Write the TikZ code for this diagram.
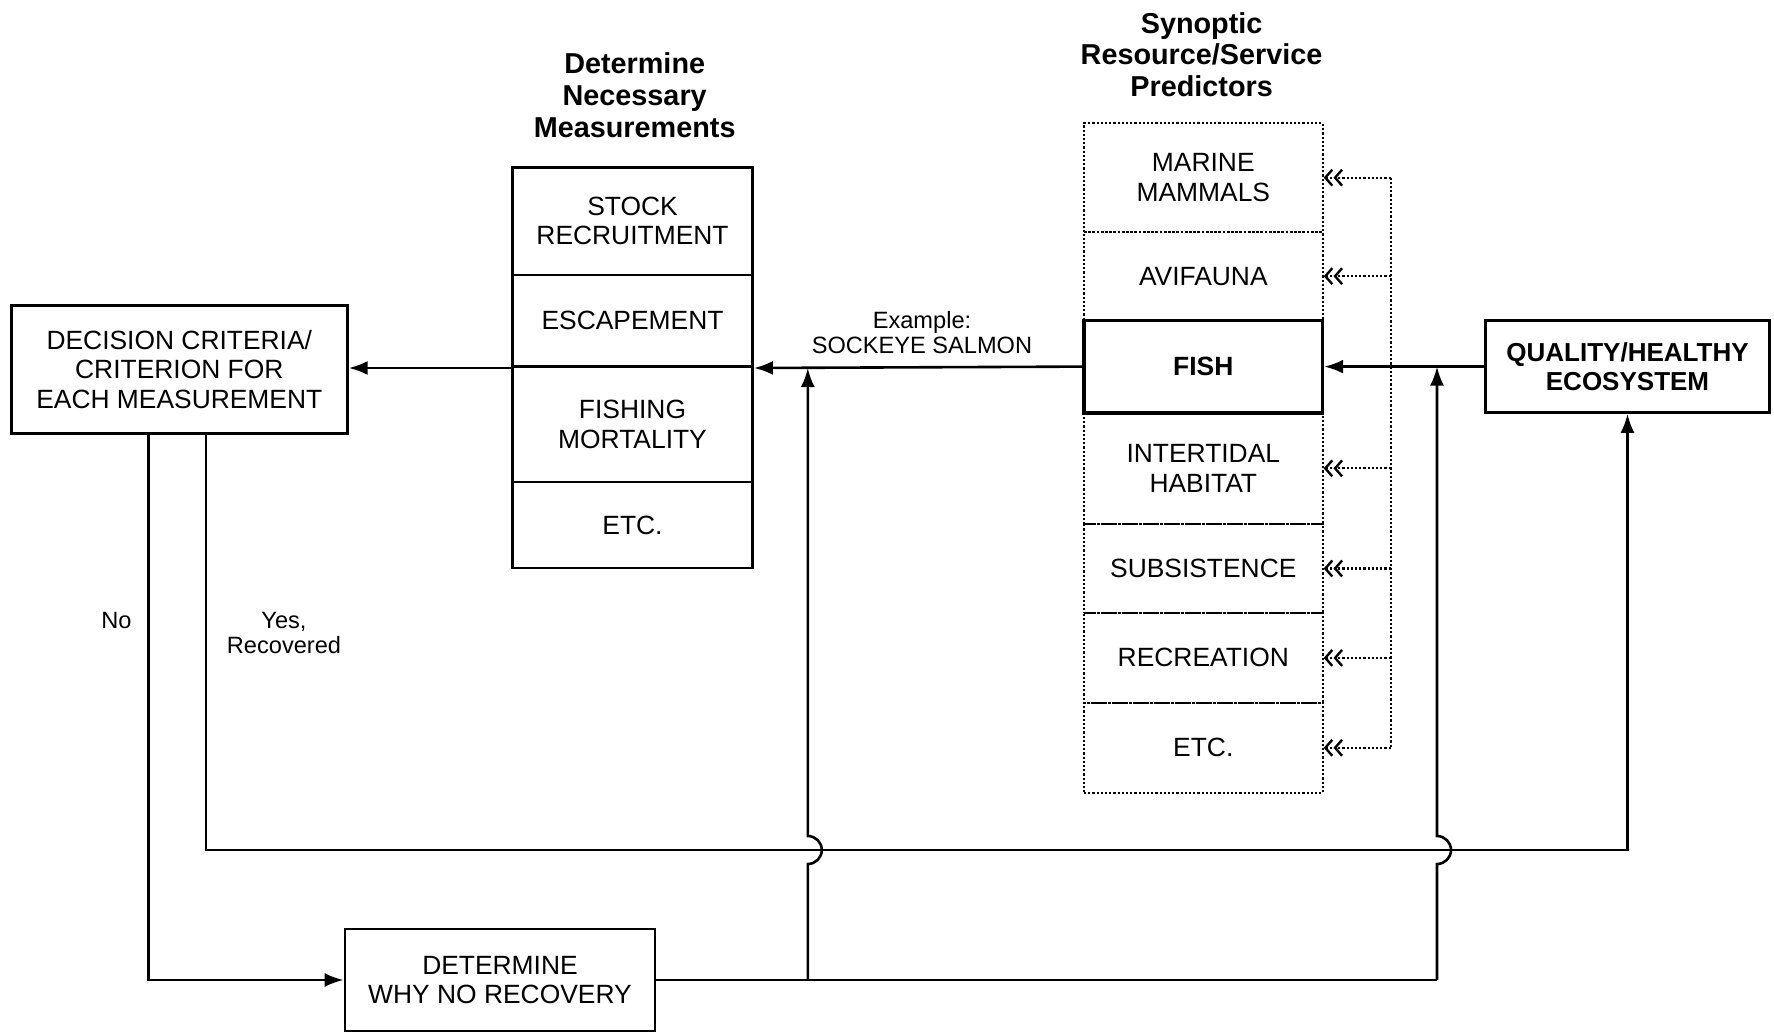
\documentclass[tikz,border=0pt]{standalone}
\usepackage{fontspec}
\setmainfont{Liberation Sans}
\usetikzlibrary{arrows.meta,calc}
\begin{document}
\begin{tikzpicture}[x=0.5pt,y=-0.5pt,
  txt/.style={font=\fontsize{13.2}{14.7}\selectfont},
  mcell/.style={draw,line width=1.4pt,align=center,inner sep=0pt,minimum width=120pt,txt},
  pcell/.style={draw,densely dotted,line width=1.1pt,align=center,inner sep=0pt,minimum width=119.3pt,txt},
  box/.style={draw,line width=1.4pt,align=center,inner sep=0pt,txt},
  ttl/.style={align=center,inner sep=0pt,font=\fontsize{14.4}{15.9}\selectfont\bfseries},
  lbl/.style={align=center,inner sep=0pt,font=\fontsize{11.8}{12.5}\selectfont},
  conn/.style={line width=1.3pt},
  arr/.style={line width=1.3pt,-{Latex[length=9.5pt,width=7pt]}},
  dotl/.style={line width=1.1pt,densely dotted},
  dotarr/.style={line width=1.1pt,densely dotted,-{Straight Barb[length=3.5pt,width=8pt,line width=1.2pt] Straight Barb[length=3.5pt,width=8pt,line width=1.2pt]}}]
\useasboundingbox (0,0) rectangle (1774,1033);
\clip (0,0) rectangle (1774,1033);
% titles
\node[ttl] (mtitle) at (634.7,95) {Determine\\Necessary\\Measurements};
\node[ttl] (ptitle) at (1201.6,54.7) {Synoptic\\Resource/Service\\Predictors};
% measurement column
\node[mcell,minimum height=53.8pt] (stock) at (632.5,221.2) {STOCK\\RECRUITMENT};
\node[mcell,minimum height=45.8pt] (esc) at (632.5,320.8) {ESCAPEMENT};
\node[mcell,minimum height=57.7pt] (fishing) at (632.5,424.3) {FISHING\\MORTALITY};
\node[mcell,minimum height=43pt] (metc) at (632.5,525) {ETC.};
% predictor column
\node[pcell,minimum height=54.35pt] (marine) at (1203.3,177.65) {MARINE\\MAMMALS};
\node[pcell,minimum height=44.15pt] (avi) at (1203.3,276.15) {AVIFAUNA};
\node[pcell,minimum height=55.45pt] (inter) at (1203.3,468.35) {INTERTIDAL\\HABITAT};
\node[pcell,minimum height=44.7pt] (subs) at (1203.3,568.5) {SUBSISTENCE};
\node[pcell,minimum height=44.7pt] (recr) at (1203.3,657.9) {RECREATION};
\node[pcell,minimum height=45.2pt] (petc) at (1203.3,747.8) {ETC.};
\node[mcell,line width=1.6pt,minimum width=119.3pt,minimum height=46.3pt,font=\fontsize{13.2}{14.7}\selectfont\bfseries] (fish) at (1203.3,366.6) {FISH};
% other boxes
\node[box,minimum width=168pt,minimum height=63.9pt] (dec) at (179.3,369.4) {DECISION CRITERIA/\\CRITERION FOR\\EACH MEASUREMENT};
\node[box,minimum width=142pt,minimum height=45.85pt,font=\fontsize{13}{14.7}\selectfont\bfseries] (qual) at (1627.5,366.6) {QUALITY/HEALTHY\\ECOSYSTEM};
\node[box,minimum width=155pt,minimum height=51pt] (det) at (500,980) {DETERMINE\\WHY NO RECOVERY};
% labels
\node[lbl] (ex) at (922,332.6) {Example:\\SOCKEYE SALMON};
\node[lbl] (no) at (116.5,620) {No};
\node[lbl] (yes) at (284,633) {Yes,\\Recovered};
% helper coordinates
\coordinate (nox) at (148.2,0);
\coordinate (yesx) at (206,0);
\coordinate (yesy) at (0,850);
\coordinate (ha) at (807.8,850);
\coordinate (hb) at (1437,850);
\coordinate (dotx) at (1390.7,0);
% main arrows
\draw[arr] (fish.west) -- (esc.south east);
\draw[arr] (esc.south west) -- (esc.south west -| dec.east);
\draw[arr] (qual.west) -- (fish.east);
% dotted feeders
\draw[dotl] (marine.east -| dotx) -- (petc.east -| dotx);
\foreach \n in {marine,avi,inter,subs,recr,petc}
  \draw[dotarr] (\n.east -| dotx) -- (\n.east);
% no branch
\draw[arr] (dec.south -| nox) |- (det.west);
% yes branch
\draw[arr] (dec.south -| yesx) |- (yesy -| qual.south) -- (qual.south);
% bottom return line
\draw[conn] (det.east) -- (det.east -| hb);
\draw[arr] (det.east -| ha) -- ([yshift=-7pt]ha) arc[start angle=90,end angle=-90,radius=14] -- (esc.south east -| ha);
\draw[arr] (det.east -| hb) -- ([yshift=-7pt]hb) arc[start angle=90,end angle=-90,radius=14] -- (fish.east -| hb);
\end{tikzpicture}
\end{document}
